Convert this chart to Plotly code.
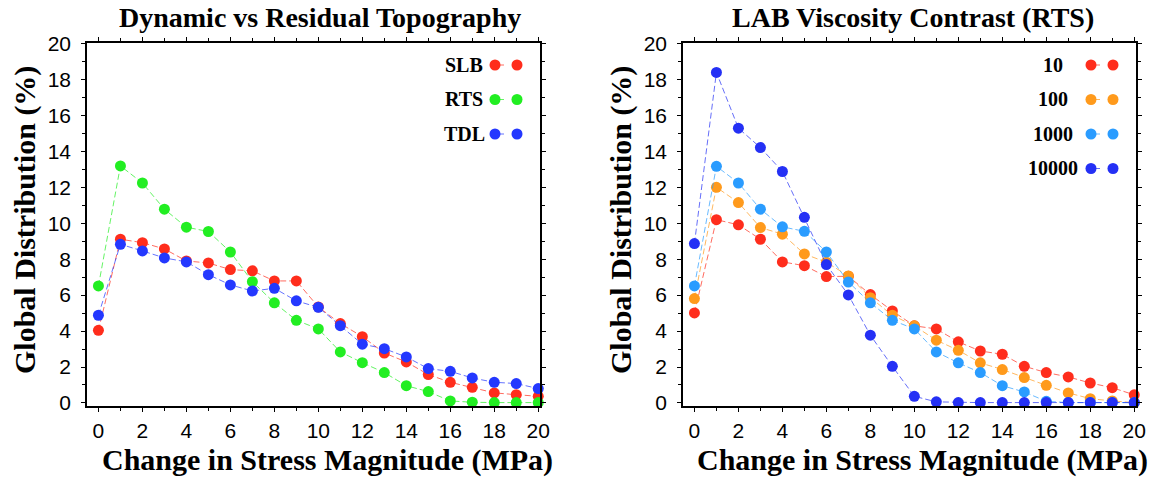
import plotly.graph_objects as go
from plotly.subplots import make_subplots

x_vals = list(range(21))

# Left panel: Dynamic vs Residual Topography
slb = [4.04, 9.11, 8.92, 8.57, 7.90, 7.79, 7.42, 7.35, 6.79, 6.79, 5.34,
       4.42, 3.69, 2.78, 2.28, 1.58, 1.15, 0.87, 0.56, 0.46, 0.37]
rts = [6.51, 13.19, 12.24, 10.78, 9.78, 9.54, 8.40, 6.75, 5.57, 4.60, 4.12,
       2.84, 2.24, 1.69, 0.96, 0.63, 0.11, 0.04, 0.02, 0.02, 0.02]
tdl = [4.88, 8.83, 8.46, 8.07, 7.85, 7.14, 6.57, 6.23, 6.38, 5.68, 5.32,
       4.30, 3.27, 3.02, 2.56, 1.91, 1.76, 1.39, 1.15, 1.08, 0.80]

# Right panel: LAB Viscosity Contrast (RTS)
v10 = [5.01, 10.20, 9.91, 9.11, 7.85, 7.64, 7.03, 7.05, 6.03, 5.12, 4.29,
       4.12, 3.40, 2.89, 2.71, 2.04, 1.69, 1.45, 1.11, 0.85, 0.45]
v100 = [5.81, 12.00, 11.15, 9.76, 9.39, 8.29, 7.83, 7.07, 5.86, 4.88, 4.29,
        3.49, 2.93, 2.23, 1.86, 1.41, 0.98, 0.56, 0.24, 0.11, 0.02]
v1000 = [6.51, 13.17, 12.24, 10.78, 9.80, 9.55, 8.40, 6.73, 5.57, 4.60, 4.12,
         2.84, 2.23, 1.69, 0.96, 0.61, 0.09, 0.02, 0.02, 0.02, 0.02]
v10000 = [8.87, 18.39, 15.29, 14.21, 12.88, 10.33, 7.70, 6.01, 3.77, 2.04, 0.37,
          0.06, 0.02, 0.02, 0.02, 0.02, 0.02, 0.02, 0.02, 0.02, 0.02]

left_names = ["SLB", "RTS", "TDL"]
left_data = [slb, rts, tdl]
left_colors = ["#ff2d1c", "#22ee22", "#2438ff"]

right_names = ["10", "100", "1000", "10000"]
right_data = [v10, v100, v1000, v10000]
right_colors = ["#ff2d1c", "#ff9a1c", "#2a9cff", "#2430f5"]

titles = ["Dynamic vs Residual Topography", "LAB Viscosity Contrast (RTS)"]
x_title = "Change in Stress Magnitude (MPa)"
y_title = "Global Distribution (%)"


def hex_rgba(h, a):
    h = h.lstrip("#")
    return "rgba(%d,%d,%d,%.2f)" % (int(h[0:2], 16), int(h[2:4], 16), int(h[4:6], 16), a)


fig = make_subplots(rows=1, cols=2)

panels = [(1, left_names, left_data, left_colors), (2, right_names, right_data, right_colors)]
for col, names, datas, colors in panels:
    for name, ys, c in zip(names, datas, colors):
        fig.add_trace(go.Scatter(
            x=x_vals, y=ys, name=name, mode="lines+markers",
            line=dict(color=hex_rgba(c, 0.7), width=1, dash="6px,3px"),
            marker=dict(color=c, size=11, line=dict(width=0)),
            showlegend=False, cliponaxis=False,
        ), row=1, col=col)

W, H = 1161, 479
dom_x = [[87 / W, 540 / W], [683 / W, 1136 / W]]
dom_y = [1 - 406 / H, 1 - 43 / H]

serif = "Liberation Serif"
sans = "Liberation Sans"

for i in range(2):
    xa = dict(domain=dom_x[i], range=[-0.52, 20.08], tickmode="linear", tick0=0, dtick=2,
              ticks="outside", ticklen=4, tickwidth=1.2, tickcolor="black",
              minor=dict(dtick=1, ticklen=3, tickcolor="black", ticks="outside"),
              showline=True, linecolor="black", linewidth=1.5, mirror="ticks",
              showgrid=False, zeroline=False, automargin=False,
              tickfont=dict(family=sans, size=21, color="black"), ticklabelstandoff=1)
    ya = dict(domain=dom_y, range=[-0.17, 20.03], tickmode="linear", tick0=0, dtick=2,
              ticks="outside", ticklen=4, tickwidth=1.2, tickcolor="black",
              minor=dict(dtick=1, ticklen=3, tickcolor="black", ticks="outside"),
              showline=True, linecolor="black", linewidth=1.5, mirror="ticks",
              showgrid=False, zeroline=False, automargin=False,
              tickfont=dict(family=sans, size=21, color="black"), ticklabelstandoff=6)
    suffix = "" if i == 0 else str(i + 1)
    fig.update_layout(**{"xaxis" + suffix: xa, "yaxis" + suffix: ya})

annotations = []
title_x = [320 / W, 913 / W]
ytitle_x = [25 / W, 621 / W]
xtitle_x = [327 / W, 922 / W]
for i in range(2):
    annotations.append(dict(text="<b>%s</b>" % titles[i], xref="paper", yref="paper",
                            x=title_x[i], y=1 - 17 / H, showarrow=False,
                            font=dict(family=serif, size=28, color="black"),
                            xanchor="center", yanchor="middle"))
    annotations.append(dict(text="<b>%s</b>" % x_title, xref="paper", yref="paper",
                            x=xtitle_x[i], y=1 - 460 / H, showarrow=False,
                            font=dict(family=serif, size=30, color="black"),
                            xanchor="center", yanchor="middle"))
    annotations.append(dict(text="<b>%s</b>" % y_title, xref="paper", yref="paper",
                            x=ytitle_x[i], y=1 - 220 / H, showarrow=False, textangle=-90,
                            font=dict(family=serif, size=30, color="black"),
                            xanchor="center", yanchor="middle"))

# Manual legends (text on the left, marker-dash-marker sample on the right)
shapes = []
row0 = 1 - (65 - 43) / 363
row_step = 34.5 / 363
m1, m2 = (495 - 87) / 453, (517 - 87) / 453
text_cx = [(464 - 87) / 453, (1053 - 683) / 453]
for i, (col, names, datas, colors) in enumerate(panels):
    xr = "x domain" if i == 0 else "x2 domain"
    yr = "y domain" if i == 0 else "y2 domain"
    for k, (name, c) in enumerate(zip(names, colors)):
        yy = row0 - k * row_step
        annotations.append(dict(text="<b>%s</b>" % name, xref=xr, yref=yr, x=text_cx[i], y=yy,
                                showarrow=False, xanchor="center", yanchor="middle",
                                font=dict(family=serif, size=20, color="black")))
        shapes.append(dict(type="line", xref=xr, yref=yr, x0=m1, x1=m2, y0=yy, y1=yy,
                           line=dict(color=hex_rgba(c, 0.7), width=1, dash="dash")))
        for mx in (m1, m2):
            shapes.append(dict(type="circle", xref=xr, yref=yr, xsizemode="pixel", ysizemode="pixel",
                               xanchor=mx, yanchor=yy, x0=-5.5, x1=5.5, y0=-5.5, y1=5.5,
                               fillcolor=c, line=dict(width=0)))

fig.update_layout(width=W, height=H, margin=dict(l=0, r=0, t=0, b=0),
                  paper_bgcolor="white", plot_bgcolor="white",
                  annotations=annotations, shapes=shapes, showlegend=False)

fig.write_html("out.html")
